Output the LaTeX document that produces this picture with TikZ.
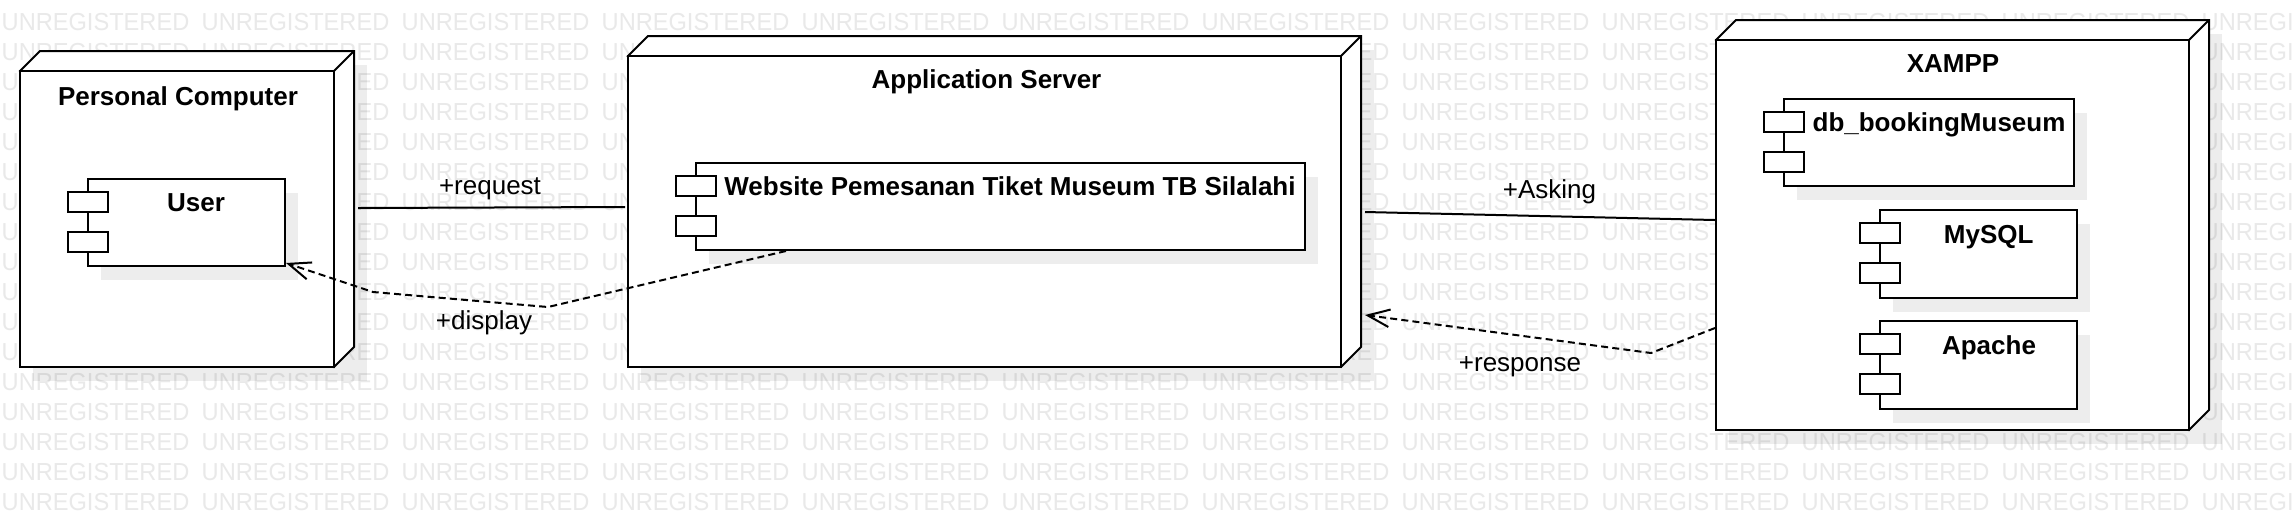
\documentclass[tikz,border=0pt]{standalone}
\usepackage{fontspec}
\setmainfont{Liberation Sans}
\usetikzlibrary{arrows.meta}
\definecolor{wmgray}{RGB}{233,233,233}
\tikzset{
  wm/.style={anchor=base west, inner sep=0pt, outer sep=0pt, text=wmgray, font=\fontsize{12.3pt}{14pt}\selectfont},
  shadowc/.style={fill=black, fill opacity=0.07},
  boxline/.style={draw=black, line width=1pt, fill=white},
  title/.style={anchor=base, inner sep=0pt, font=\fontsize{13pt}{15pt}\selectfont\bfseries},
  conlabel/.style={anchor=base, inner sep=0pt, font=\fontsize{13pt}{15pt}\selectfont},
  solidcon/.style={draw=black, line width=1pt},
  dashcon/.style={draw=black, line width=1pt, dash pattern=on 3.5pt off 2.1pt, -{Straight Barb[length=11pt,width=8.8pt]}},
}
\newcommand\ddnode[5]{% name, L, T, R, B
  \fill[shadowc] ({#2+13},{#3-6}) rectangle ({#4+33},{#5+14});
  \draw[boxline, line join=miter] ({#2},{#3}) -- ({#2+20},{#3-20}) -- ({#4+20},{#3-20}) -- ({#4+20},{#5-20}) -- ({#4},{#5}) -- cycle;
  \node[boxline, inner sep=0pt, outer sep=0pt, minimum width={(#4-#2)*0.5pt}, minimum height={(#5-#3)*0.5pt}, anchor=north west] (#1) at ({#2},{#3}) {};
  \draw[line width=1pt] ({#4},{#3}) -- ({#4+20},{#3-20});
}
\newcommand\compbox[5]{% name, L, T, R, B
  \fill[shadowc] ({#2+13},{#3+14}) rectangle ({#4+13},{#5+14});
  \node[boxline, inner sep=0pt, outer sep=0pt, minimum width={(#4-#2)*0.5pt}, minimum height={(#5-#3)*0.5pt}, anchor=north west] (#1) at ({#2},{#3}) {};
  \draw[boxline] ({#2-20},{#3+13}) rectangle ({#2+20},{#3+33});
  \draw[boxline] ({#2-20},{#3+53}) rectangle ({#2+20},{#3+73});
}
\begin{document}
\begin{tikzpicture}[x=0.5pt,y=-0.5pt]
\useasboundingbox[fill=white] (0,0) rectangle (2292,516);
% watermark
\foreach \k in {0,...,16} {
  \foreach \i in {0,...,11} {
    \node[wm] (wm-\k-\i) at ({1.7+200*\i},{30.7+30*\k}) {\scalebox{0.96}[1]{UNREGISTERED}};
  }
}
% 3D nodes
\ddnode{pc}{20}{71}{334}{367}
\ddnode{app}{628}{56}{1341}{367}
\ddnode{xampp}{1716}{40}{2189}{430}
% components
\compbox{user}{88}{179}{285}{266}
\compbox{web}{696}{163}{1305}{250}
\compbox{db}{1784}{99}{2074}{186}
\compbox{mysql}{1880}{210}{2077}{298}
\compbox{apache}{1880}{321}{2077}{409}
% titles
\node[title] (tpc) at (178,105) {Personal Computer};
\node[title] (tuser) at (196,211) {User};
\node[title] (tapp) at (986.5,88.7) {Application Server};
\node[title] (tweb) at (1010,195) {Website Pemesanan Tiket Museum TB Silalahi};
\node[title] (txampp) at (1953,72) {XAMPP};
\node[title] (tdb) at (1939,131.7) {db\_bookingMuseum};
\node[title] (tmysql) at (1988.7,243) {MySQL};
\node[title] (tapache) at (1989,354) {Apache};
% connector end points
\coordinate (reqA) at (358,208);
\coordinate (reqB) at (625,207);
\coordinate (askA) at (1365,212);
\coordinate (askB) at (1715,220);
\coordinate (dispA) at (786,251);
\coordinate (dispB) at (548,307);
\coordinate (dispC) at (373,292);
\coordinate (dispD) at (286,263);
\coordinate (resA) at (1715,328);
\coordinate (resB) at (1651,353);
\coordinate (resC) at (1365,315);
% connectors
\draw[solidcon] (reqA) -- (reqB);
\draw[solidcon] (askA) -- (askB);
\draw[dashcon] (dispA) -- (dispB) -- (dispC) -- (dispD);
\draw[dashcon] (resA) -- (resB) -- (resC);
% connector labels
\node[conlabel] (lreq) at (490,194.5) {+request};
\node[conlabel] (ldisp) at (484,329) {+display};
\node[conlabel] (lask) at (1549.5,198) {+Asking};
\node[conlabel] (lres) at (1520,371) {+response};
\end{tikzpicture}
\end{document}
